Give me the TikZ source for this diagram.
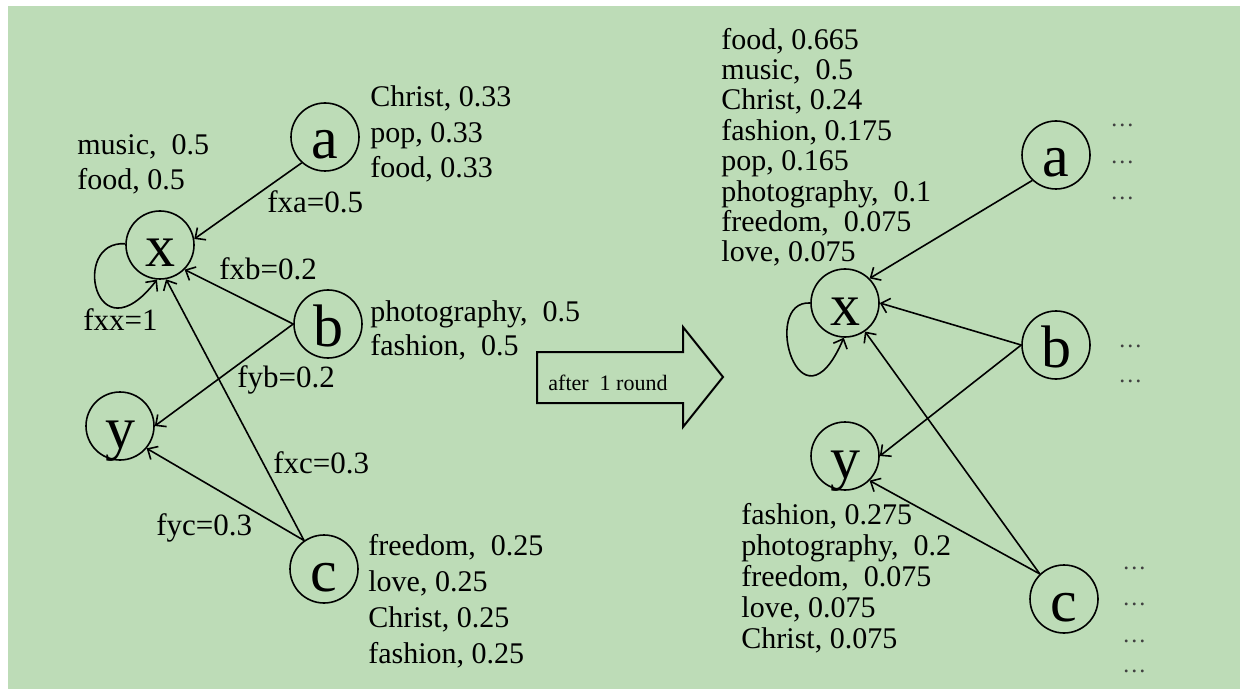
\documentclass[tikz,border=0pt]{standalone}
\usepackage{fontspec}
\setmainfont{Liberation Serif}
\usetikzlibrary{arrows.meta}
\definecolor{paper}{RGB}{189,220,183}
\tikzset{vertex/.style={draw,circle,line width=0.8pt,minimum size=34pt,inner sep=0pt,text height=22pt,text depth=0pt,font=\fontsize{30}{30}\selectfont},
         wlist/.style={anchor=base west,align=left,inner sep=0pt,font=\fontsize{15}{#1}\selectfont},
         weight/.style={anchor=base west,inner sep=0pt,font=\fontsize{15.5}{16}\selectfont},
         more/.style={anchor=base west,inner sep=0pt,text=black!75,font=\fontsize{12}{12}\selectfont},
         edge/.style={->,line width=0.8pt},
        }

\begin{document}
\begin{tikzpicture}[x=0.5pt,y=-0.5pt,>={Straight Barb[length=4pt,width=7.5pt]}]
        \useasboundingbox(0,0)rectangle(1240,689);
        \fill[white](0,0)rectangle(1240,689);
        \fill[paper](8,6)rectangle(1240,689);

        % graph before the round
        \node[vertex](a1)at(325,137){a};
        \node[vertex](x1)at(160,245){x};
        \node[vertex](b1)at(328,324){b};
        \node[vertex](y1)at(120,426){y};
        \node[vertex](c1)at(324,569){c};

        \draw[edge](a1.228)--(x1.10);
        \draw[edge](b1.west)--(x1.-45);
        \draw[edge](b1.west)--(y1.east);
        \draw[edge](c1.125)--(x1.-80);
        \draw[edge](c1.125)--(y1.-40);
        \draw[edge](x1.178)..controls(70,240)and(95,360)..(x1.-95);

        \node[weight](wxa)at(267,213){fxa=0.5};
        \node[weight](wxb)at(219,280){fxb=0.2};
        \node[weight](wxx)at(83,330){fxx=1};
        \node[weight](wyb)at(237,387){fyb=0.2};
        \node[weight](wxc)at(273,473){fxc=0.3};
        \node[weight](wyc)at(156,535){fyc=0.3};

        % lists are placed by the baseline of their last line
        \node[wlist=17.5](lx1)at(77,190){music,\ \ 0.5\\food, 0.5};
        \node[wlist=17.75](la1)at(370,178){Christ, 0.33\\pop, 0.33\\food, 0.33};
        \node[wlist=16.75](lb1)at(370,355){photography,\ \ 0.5\\fashion,\ \ 0.5};
        \node[wlist=18](lc1)at(368,663){freedom,\ \ 0.25\\love, 0.25\\Christ, 0.25\\fashion, 0.25};

        % one round step
        \draw[line width=1pt](537,352)--(683,352)--(683,327)--(723,377)--(683,427)--(683,403)--(537,403)--cycle;
        \node[anchor=base west,inner sep=0pt,font=\fontsize{11}{11}\selectfont](rnd)at(548,390){after\ \ 1 round};

        % graph after the round
        \node[vertex](a2)at(1056,155){a};
        \node[vertex](x2)at(845,303){x};
        \node[vertex](b2)at(1056,345){b};
        \node[vertex](y2)at(845,456){y};
        \node[vertex](c2)at(1064,599){c};

        \draw[edge](a2.227)--(x2.45);
        \draw[edge](b2.west)--(x2.east);
        \draw[edge](b2.west)--(y2.east);
        \draw[edge](c2.134)--(x2.-55);
        \draw[edge](c2.134)--(y2.-45);
        \draw[edge](x2.180)..controls(760,300)and(800,440)..(x2.-92);

        \node[wlist=15.2](lx2)at(721,262){food, 0.665\\music,\ \ 0.5\\Christ, 0.24\\fashion, 0.175\\pop, 0.165\\photography,\ \ 0.1\\freedom,\ \ 0.075\\love, 0.075};
        \node[wlist=15.4](ly2)at(741,648){fashion, 0.275\\photography,\ \ 0.2\\freedom,\ \ 0.075\\love, 0.075\\Christ, 0.075};

        \node[more](ma1)at(1110,127){\dots};
        \node[more](ma2)at(1110,164){\dots};
        \node[more](ma3)at(1110,200){\dots};
        \node[more](mb1)at(1118,347){\dots};
        \node[more](mb2)at(1118,382){\dots};
        \node[more](mc1)at(1122,569){\dots};
        \node[more](mc2)at(1122,605){\dots};
        \node[more](mc3)at(1122,642){\dots};
        \node[more](mc4)at(1122,672){\dots};
\end{tikzpicture}
\end{document}
